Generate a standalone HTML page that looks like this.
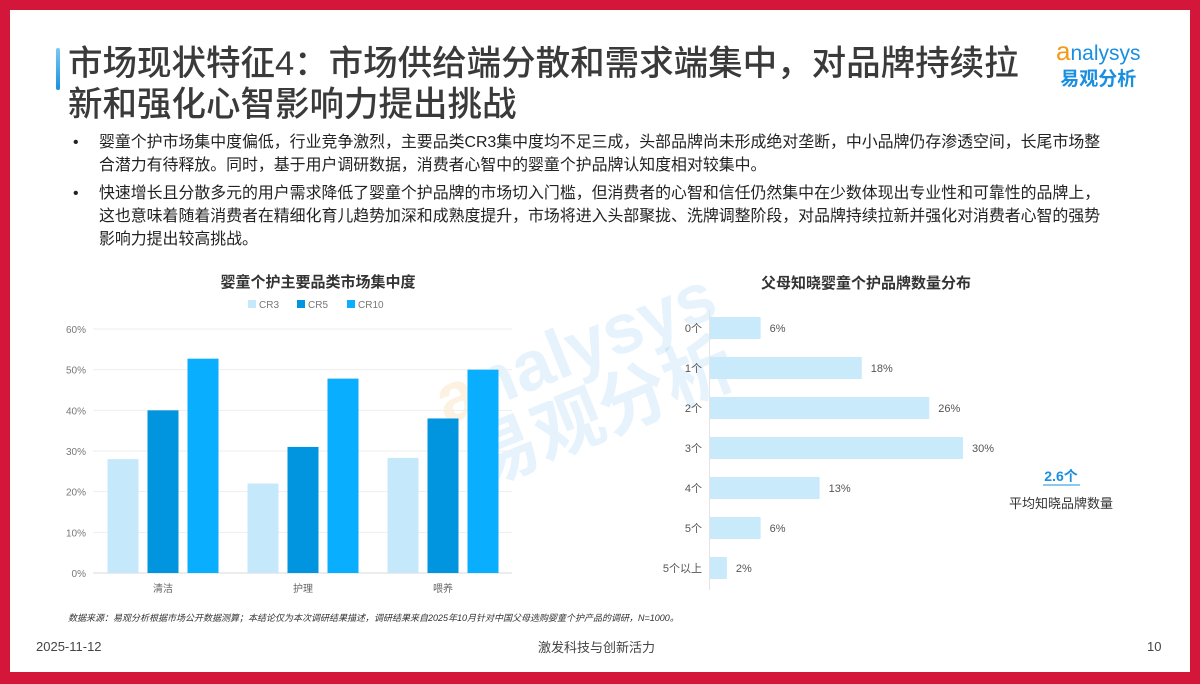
<!DOCTYPE html>
<html><head><meta charset="utf-8">
<style>
body{margin:0;width:1200px;height:684px;background:#d4163a;font-family:"Liberation Sans","Noto Sans CJK SC",sans-serif;overflow:hidden;position:relative}
#page{position:absolute;left:10px;top:10px;width:1180px;height:662px;background:#fff;overflow:hidden}
.abs{position:absolute;white-space:nowrap}
</style></head><body>
<div id="page">
  <div class="abs" style="left:46px;top:38px;width:4px;height:42px;background:linear-gradient(#7cc8f2,#1a8fe0);border-radius:2px"></div>
  <div class="abs" style="left:58px;top:34px;font-size:34.5px;line-height:41px;color:#3a3a3a;font-weight:500">市场现状特征4：市场供给端分散和需求端集中，对品牌持续拉<br>新和强化心智影响力提出挑战</div>
  <div class="abs" style="left:1046px;top:28px;text-align:center;line-height:26px">
    <div style="font-size:21px;color:#1a8fe0"><span style="color:#f29a1a;font-size:26px">a</span>nalysys</div>
    <div style="font-size:19px;color:#1a8fe0;font-weight:bold">易观分析</div>
  </div>
  <div style="position:absolute;left:63px;top:121px;font-size:15.9px;color:#222;line-height:23px;white-space:nowrap">
    <div style="position:relative;padding-left:26px;margin-bottom:5px"><span style="position:absolute;left:0">•</span>婴童个护市场集中度偏低，行业竞争激烈，主要品类CR3集中度均不足三成，头部品牌尚未形成绝对垄断，中小品牌仍存渗透空间，长尾市场整<br>合潜力有待释放。同时，基于用户调研数据，消费者心智中的婴童个护品牌认知度相对较集中。</div>
    <div style="position:relative;padding-left:26px"><span style="position:absolute;left:0">•</span>快速增长且分散多元的用户需求降低了婴童个护品牌的市场切入门槛，但消费者的心智和信任仍然集中在少数体现出专业性和可靠性的品牌上，<br>这也意味着随着消费者在精细化育儿趋势加深和成熟度提升，市场将进入头部聚拢、洗牌调整阶段，对品牌持续拉新并强化对消费者心智的强势<br>影响力提出较高挑战。</div>
  </div>
  <div class="abs" style="left:430px;top:300px;transform:rotate(-22deg);color:rgba(30,150,230,0.11);font-size:70px;font-weight:bold;line-height:70px;text-align:center"><span style="color:rgba(242,154,26,0.13)">a</span>nalysys<br>易观分析</div>
  <svg id="chart" width="1180" height="662" style="position:absolute;left:0;top:0"></svg>
  <div class="abs" style="left:58px;top:601px;font-size:9px;font-style:italic;color:#333">数据来源：易观分析根据市场公开数据测算；本结论仅为本次调研结果描述，调研结果来自2025年10月针对中国父母选购婴童个护产品的调研，N=1000。</div>
  <div class="abs" style="left:26px;top:629px;font-size:13px;color:#444">2025-11-12</div>
  <div class="abs" style="left:528px;top:627px;font-size:13px;color:#444">激发科技与创新活力</div>
  <div class="abs" style="left:1137px;top:629px;font-size:13px;color:#444">10</div>
</div>
<script>
const categories=["清洁","护理","喂养"];
const seriesNames=["CR3","CR5","CR10"];
const cr3=[28,22,28.3];
const cr5=[40,31,38];
const cr10=[52.7,47.8,50];
const yTicks=[0,10,20,30,40,50,60];
const brandCats=["0个","1个","2个","3个","4个","5个","5个以上"];
const brandVals=[6,18,26,30,13,6,2];
const avgBrands="2.6个";

const svg=document.getElementById('chart');const NS="http://www.w3.org/2000/svg";
function mk(t,a,txt){const e=document.createElementNS(NS,t);for(const k in a)e.setAttribute(k,a[k]);if(txt!==undefined)e.textContent=txt;svg.appendChild(e);return e;}
const OX=-10,OY=-10;
const y=v=>OY+573-v*(244/60);
const gx=i=>OX+163+i*140;
let t=mk('text',{x:OX+318,y:OY+287,'text-anchor':'middle','font-size':15,'font-weight':'bold',fill:'#333'},'婴童个护主要品类市场集中度');

const cols=['#c5e9fb','#0095de','#0aaeff'];
const legX=[248,297,347];
seriesNames.forEach((n,i)=>{const r=mk('rect',{x:OX+legX[i],y:OY+300,width:8,height:8,fill:cols[i]});

const tx=mk('text',{x:OX+legX[i]+11,y:OY+308,'font-size':10,fill:'#777'},n);
});
yTicks.forEach(v=>{const l=mk('line',{x1:OX+93,x2:OX+512,y1:y(v),y2:y(v),stroke:v===0?'#d8d8d8':'#eeeeee','stroke-width':1});

const tx=mk('text',{x:OX+86,y:y(v)+4,'text-anchor':'end','font-size':10,fill:'#777'},v+'%');
});
const series=[cr3,cr5,cr10];
categories.forEach((c,i)=>{series.forEach((s,j)=>{const x=gx(i)+(j-1)*40-15.5;
const r=mk('rect',{x:x,y:y(s[i]),width:31,height:y(0)-y(s[i]),fill:cols[j]});
});
const tx=mk('text',{x:gx(i),y:OY+592,'text-anchor':'middle','font-size':10,fill:'#666'},c);
});
const hx=v=>OX+710+v*(253/30);
const hy=i=>OY+328+i*40;
t=mk('text',{x:OX+866,y:OY+288,'text-anchor':'middle','font-size':15,'font-weight':'bold',fill:'#333'},'父母知晓婴童个护品牌数量分布');

let ax=mk('line',{x1:OX+709.5,x2:OX+709.5,y1:OY+310,y2:OY+590,stroke:'#e4e4e4'});

brandCats.forEach((c,i)=>{const r=mk('rect',{x:hx(0),y:hy(i)-11,width:hx(brandVals[i])-hx(0),height:22,fill:'#c9eafb'});

const l=mk('text',{x:OX+702,y:hy(i)+4,'text-anchor':'end','font-size':11,fill:'#555'},c);

const v=mk('text',{x:hx(brandVals[i])+9,y:hy(i)+4,'font-size':11,fill:'#555'},brandVals[i]+'%');
});
t=mk('text',{x:OX+1061,y:OY+481,'text-anchor':'middle','font-size':14,'font-weight':'bold',fill:'#1a8fe0'},avgBrands);

let u=mk('line',{x1:OX+1043,x2:OX+1080,y1:OY+485,y2:OY+485,stroke:'#1a8fe0','stroke-width':1});

t=mk('text',{x:OX+1061,y:OY+508,'text-anchor':'middle','font-size':13,fill:'#333'},'平均知晓品牌数量');

</script>
</body></html>
